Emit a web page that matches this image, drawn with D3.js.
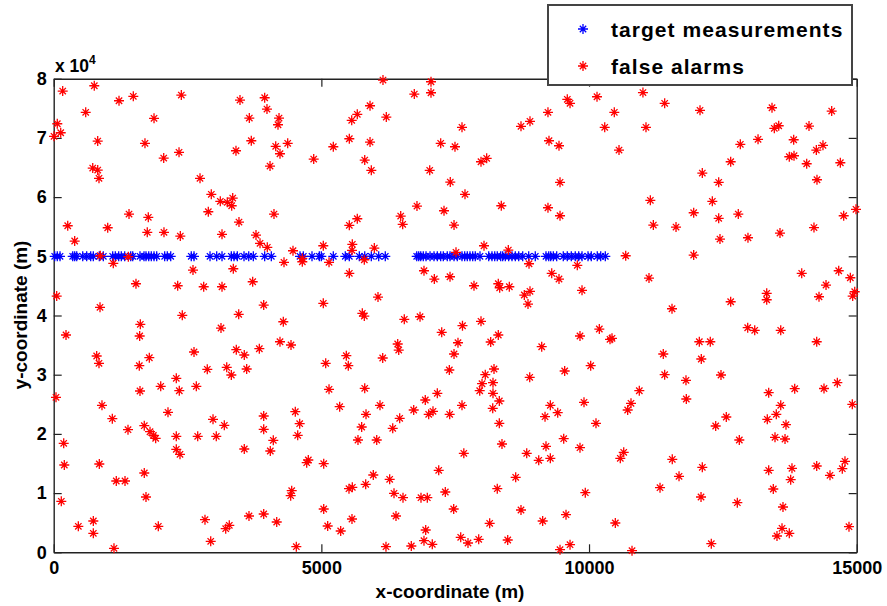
<!DOCTYPE html>
<html><head><meta charset="utf-8">
<script src="https://cdn.jsdelivr.net/npm/d3@7"></script>
<style>body{margin:0;background:#fff}text{font-family:Arial,"Liberation Sans",sans-serif;font-weight:bold}</style>
</head><body><svg id="c" width="887" height="606"></svg>
<script>
const xTicks=[0,5000,10000,15000];
const yTicks=[0,10000,20000,30000,40000,50000,60000,70000,80000];
const seriesNames=["target measurements","false alarms"];
const targetY=50000;
const targetX=[19,67,118,355,392,430,542,616,691,740,852,927,1102,1151,1214,1263,1326,1438,1476,1612,1687,1724,1775,1823,1874,1924,2073,2122,2186,2570,2621,2920,3045,3144,3318,3368,3430,3555,3643,3729,3941,4065,4601,4663,4825,4962,4999,5223,5447,5522,5709,5810,5933,6071,6194,6781,6818,6856,6904,6955,7030,7104,7166,7229,7278,7352,7403,7478,7539,7627,7677,7726,7776,7827,7875,7963,8126,8187,8238,8286,8350,8387,8436,8499,8561,8623,8686,8761,8873,8996,9196,9247,9284,9333,9396,9519,9594,9669,9743,9807,9869,9981,10042,10154,10218,10304];
const falseX=[168,758,1220,1487,2384,3480,598,1874,3654,67,131,6,822,1705,3691,3405,2341,2055,729,822,846,2733,2944,3112,3243,3344,3325,2888,1407,1767,3461,262,1009,
1748,2060,2365,3144,392,3779,870,1394,1113,2602,3355,1537,2316,2802,3144,3717,56,865,2402,3456,230,1618,1606,3125,803,846,1786,2621,3411,3560,1599,2869,3232,3318,3605,2290,1999,2664,1612,2346,
43,902,2135,1095,2976,3187,1692,1388,1799,1861,1905,2290,2690,3037,187,2290,2359,3560,198,852,1692,1169,1332,1724,142,3648,2826,740,460,1954,3280,3213,740,2933,1126,
6151,7048,6736,7048,3941,3984,5909,5671,5567,6213,4209,4190,7627,4147,4371,4227,5223,5522,5909,7229,7496,4857,5810,5933,7024,4041,7408,7683,6786,7291,4115,6482,5671,5522,6519,7478,
11007,9594,9645,10149,11413,9233,10472,8729,8897,10293,11064,9252,9439,10560,7982,8088,9458,8361,9233,9458,11145,11201,11625,
12073,13418,14533,13461,13543,14109,13157,12826,13823,14246,14370,13741,13829,14066,14694,12646,12116,12422,14258,12303,11955,12422,12788,14757,14987,14202,
13567,12446,12969,11955,13973,14664,14881,14427,14296,14963,14925,13319,13319,12646,11550,12964,13095,13581,12060,12265,14253,12097,12465,11811,14638,14389,13842,13356,
11817,14918,13581,13498,13330,12564,12366,13679,12807,13474,13661,11555,12116,11681,13356,13791,13767,14253,14501,14731,14781,13442,12092,12770,13623,14856,13605,13741,13511,12284,
3854,3990,4470,5036,5578,5572,5989,4302,4644,4644,5143,5802,7515,5522,6917,7110,7403,6058,3923,5036,5765,5802,6549,6843,7636,4289,7248,4227,4433,6426,6445,7552,3841,5466,7478,6146,5081,5503,7390,5143,5810,7166,
6941,7627,3923,4513,5342,6095,5834,6725,7005,7085,7397,6463,4595,3923,5753,6333,4558,4102,5684,6034,4046,7661,4756,4726,5044,7192,5970,6276,5828,5516,5578,4446,4427,6357,6525,6861,6979,7315,5044,7472,3923,4166,5572,6394,5118,5361,6949,6917,7072,7603,4532,6207,6680,
8038,8492,10685,8879,9781,9303,9439,11120,7851,8305,8331,8511,8791,8897,8860,9869,7982,8163,8305,9116,9831,10192,10392,10429,11387,9545,10031,11413,8225,8062,8892,8001,8206,7958,8206,10939,
8324,8201,9277,9178,9415,9906,10784,10722,8324,10130,9527,8374,9196,9831,8836,9060,9277,10648,10584,8630,8286,9930,11326,8729,9570,9134,8144,10491,7739,7939,8481,9458,9645,10803];
const falseY=[77914,78809,76275,77018,77238,76393,74316,73303,73353,72391,70870,70262,69469,69080,69519,67830,67560,66597,64908,64570,63169,63169,60466,59284,59115,59841,58541,57527,57139,56582,55788,55163,54825,
54048,54048,53423,53710,52579,53592,50096,49927,48812,47681,47900,45367,45029,44860,44860,45704,43289,41381,40029,40198,36702,38509,36533,37884,33155,31922,32868,33831,34219,33324,31517,30909,31247,29946,30959,29389,28037,28037,27244,27294,
26180,24828,23646,22565,22464,21450,21383,20707,20369,19761,19255,19592,19592,19592,18410,17397,16552,17447,14745,14914,13394,12043,12043,9340,8614,6131,5506,5287,4391,4391,4560,3986,3209,1858,676,
79771,79484,77407,77626,76782,74873,75431,73978,72965,73522,73353,72222,71783,68573,69080,67324,68506,69857,69300,69080,68506,66428,66259,64520,64520,65246,62544,60466,58490,57696,57139,56801,56345,55230,55399,55281,
77660,76512,75836,76951,75836,74316,74316,71951,72796,71783,71783,69519,68675,67948,65972,66547,62493,58541,58203,56852,59453,55281,54943,
74654,75093,74536,71614,72053,72002,69756,68911,69688,67948,68742,66817,66986,65635,65803,65972,64064,62493,62932,59284,57358,56413,57139,56852,57933,54859,
53930,52916,53136,50214,47123,47562,46380,45147,43171,44015,43289,43745,42664,42326,41144,37935,37496,37496,35570,35570,35570,32648,29946,29051,28645,27666,27632,26956,
25892,24997,24828,23308,22464,22852,21332,21552,18967,19424,19136,15708,14357,12836,13850,14188,12262,14576,13005,14120,15370,10691,9340,8377,7651,4324,4054,3209,2753,1453,
52190,51515,50940,51785,52021,51008,51396,48981,49657,49082,48981,49420,50670,47123,47562,46160,46549,43120,41769,42056,40367,39911,39354,39793,38273,38948,37158,35570,35013,35182,34168,35401,34388,33206,33493,32817,31922,31517,30790,27531,27700,26855,
25723,24828,23021,23747,24592,24828,23308,24034,23308,23815,23308,22633,21721,20775,21163,20944,19761,18917,18967,18967,17110,16721,15589,15133,14965,13850,13056,12330,11485,10742,10979,10404,9560,9965,9222,9222,9222,10185,7313,7313,6469,5118,5624,6131,4442,3598,3766,1959,1351,2534,946,946,1064,
51785,51058,50096,48745,48474,47123,46160,46329,45029,45367,44691,44860,43458,44083,41938,44252,39016,35520,36702,34726,36533,37715,35976,36145,33493,30622,31517,29997,30959,29997,29558,28477,28645,27294,26855,27294,
25555,24322,24828,22903,23578,25335,25166,24034,21788,21788,19187,18292,17903,17667,16721,15539,15877,16890,15877,12668,10742,10066,10911,7144,6351,5287,4898,4949,1571,2196,2077,439,1284,270];

const svg=d3.select("#c");
const L=53.7,R=856.7,T=78.7,B=552.3;
const x=d3.scaleLinear().domain([0,15000]).range([L,R]);
const y=d3.scaleLinear().domain([0,80000]).range([B,T]);
const star="M-5,0H5M0,-5V5M-3.2,-3.2L3.2,3.2M-3.2,3.2L3.2,-3.2";
const tk=8, axCol="#222";

const gx=svg.append("g").attr("transform",`translate(0,${B})`)
  .call(d3.axisBottom(x).tickValues(xTicks).tickSizeInner(-tk).tickSizeOuter(0).tickPadding(6).tickFormat(d3.format("d")));
const gy=svg.append("g").attr("transform",`translate(${L},0)`)
  .call(d3.axisLeft(y).tickValues(yTicks).tickSizeInner(-tk).tickSizeOuter(0).tickPadding(7).tickFormat(d=>d/10000));
const gt=svg.append("g").attr("transform",`translate(0,${T})`)
  .call(d3.axisTop(x).tickValues(xTicks).tickSizeInner(-tk).tickSizeOuter(0).tickFormat(""));
const gr=svg.append("g").attr("transform",`translate(${R},0)`)
  .call(d3.axisRight(y).tickValues(yTicks).tickSizeInner(-tk).tickSizeOuter(0).tickFormat(""));
[gx,gy,gt,gr].forEach(g=>{g.selectAll("path.domain").attr("stroke",axCol).attr("stroke-width",1.4);g.selectAll(".tick line").attr("stroke",axCol).attr("stroke-width",1.2);});
gx.selectAll("text").attr("font-size",18).attr("fill","#000").attr("dy","0.9em");
gy.selectAll("text").attr("font-size",18).attr("fill","#000");

svg.append("g").selectAll("path").data(targetX).join("path")
  .attr("d",star).attr("transform",d=>`translate(${x(d)},${y(targetY)})`)
  .attr("stroke","#0000ff").attr("stroke-width",1.3).attr("fill","none");
svg.append("g").selectAll("path").data(falseX.map((v,i)=>[v,falseY[i]])).join("path")
  .attr("d",star).attr("transform",d=>`translate(${x(d[0])},${y(d[1])})`)
  .attr("stroke","#ff0000").attr("stroke-width",1.3).attr("fill","none");

const ex=svg.append("text").attr("x",55).attr("y",72).attr("font-size",17.5);
ex.append("tspan").text("x 10");
ex.append("tspan").attr("font-size",12).attr("dy",-8).text("4");

svg.append("text").attr("x",450).attr("y",598).attr("text-anchor","middle").attr("font-size",19).text("x-coordinate (m)");
svg.append("text").attr("transform",`translate(27,315) rotate(-90)`).attr("text-anchor","middle").attr("font-size",19).text("y-coordinate (m)");

const lg=svg.append("g");
lg.append("rect").attr("x",548).attr("y",5).attr("width",304).attr("height",80).attr("fill","#fff").attr("stroke","#444").attr("stroke-width",2);
const cols=["#0000ff","#ff0000"];
seriesNames.forEach((n,i)=>{
  const cy=29+i*37;
  lg.append("path").attr("d",star).attr("transform",`translate(583,${cy})`).attr("stroke",cols[i]).attr("stroke-width",1.3).attr("fill","none");
  lg.append("text").attr("x",611).attr("y",cy).attr("dy","0.36em").attr("font-size",21).attr("letter-spacing",1.05).text(n);
});
</script></body></html>
